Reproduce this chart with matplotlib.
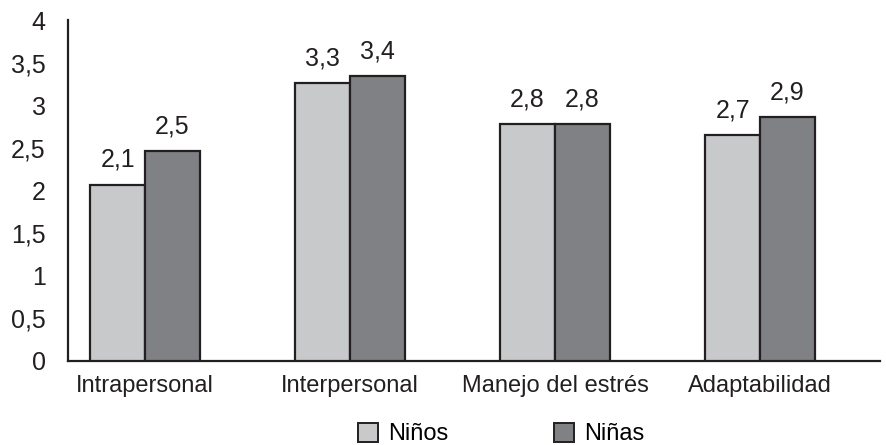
import numpy as np
import matplotlib
matplotlib.use("Agg")
import matplotlib.pyplot as plt
from matplotlib.patches import Patch

plt.rcParams["font.family"] = ["Liberation Sans", "DejaVu Sans"]

CATEGORIES = ["Intrapersonal", "Interpersonal", "Manejo del estrés", "Adaptabilidad"]
NINOS = [2.07, 3.26, 2.78, 2.65]
NINAS = [2.46, 3.34, 2.78, 2.86]
NINOS_LBL = ["2,1", "3,3", "2,8", "2,7"]
NINAS_LBL = ["2,5", "3,4", "2,8", "2,9"]
YTICKS = [0, 0.5, 1, 1.5, 2, 2.5, 3, 3.5, 4]
YTICK_LBL = ["0", "0,5", "1", "1,5", "2", "2,5", "3", "3,5", "4"]

LIGHT, DARK, EDGE = "#c8c9cb", "#808184", "#231f20"
FS = 17      # words
FS_NUM = 18  # numbers
W = 0.268

fig = plt.figure(figsize=(8.86, 4.45), dpi=100)
ax = fig.add_axes([68 / 886, 1 - 361 / 445, (880 - 68) / 886, (361 - 20) / 445])

x = np.arange(len(CATEGORIES))
b1 = ax.bar(x - W / 2, NINOS, W, color=LIGHT, edgecolor=EDGE, linewidth=1.6, zorder=3)
b2 = ax.bar(x + W / 2, NINAS, W, color=DARK, edgecolor=EDGE, linewidth=1.6, zorder=3)
for bars, lbls in ((b1, NINOS_LBL), (b2, NINAS_LBL)):
    for r, t in zip(bars, lbls):
        ax.text(r.get_x() + r.get_width() / 2, r.get_height() + 0.15, t,
                ha="center", va="bottom", fontsize=FS_NUM, color=EDGE)

ax.set_xlim(-0.376, 3.585)
ax.set_ylim(0, 4)
ax.set_xticks(x)
ax.set_xticklabels(CATEGORIES, fontsize=FS, color=EDGE)
ax.set_yticks(YTICKS)
ax.set_yticklabels(YTICK_LBL, fontsize=FS_NUM, color=EDGE)
ax.tick_params(axis="both", length=0)
ax.tick_params(axis="x", pad=10)
ax.tick_params(axis="y", pad=16)
for s in ("top", "right"):
    ax.spines[s].set_visible(False)
for s in ("left", "bottom"):
    ax.spines[s].set_color(EDGE)
    ax.spines[s].set_linewidth(1.6)

handles = [Patch(facecolor=LIGHT, edgecolor=EDGE, linewidth=1.4, label="Niños"),
           Patch(facecolor=DARK, edgecolor=EDGE, linewidth=1.4, label="Niñas")]
fig.legend(handles=handles, loc="center", bbox_to_anchor=(501 / 886, 1 - 434 / 445), ncol=2,
           frameon=False, fontsize=FS, handlelength=0.85, handleheight=0.85,
           handletextpad=0.42, columnspacing=4.5, borderpad=0)

fig.savefig("out.png", dpi=100)
